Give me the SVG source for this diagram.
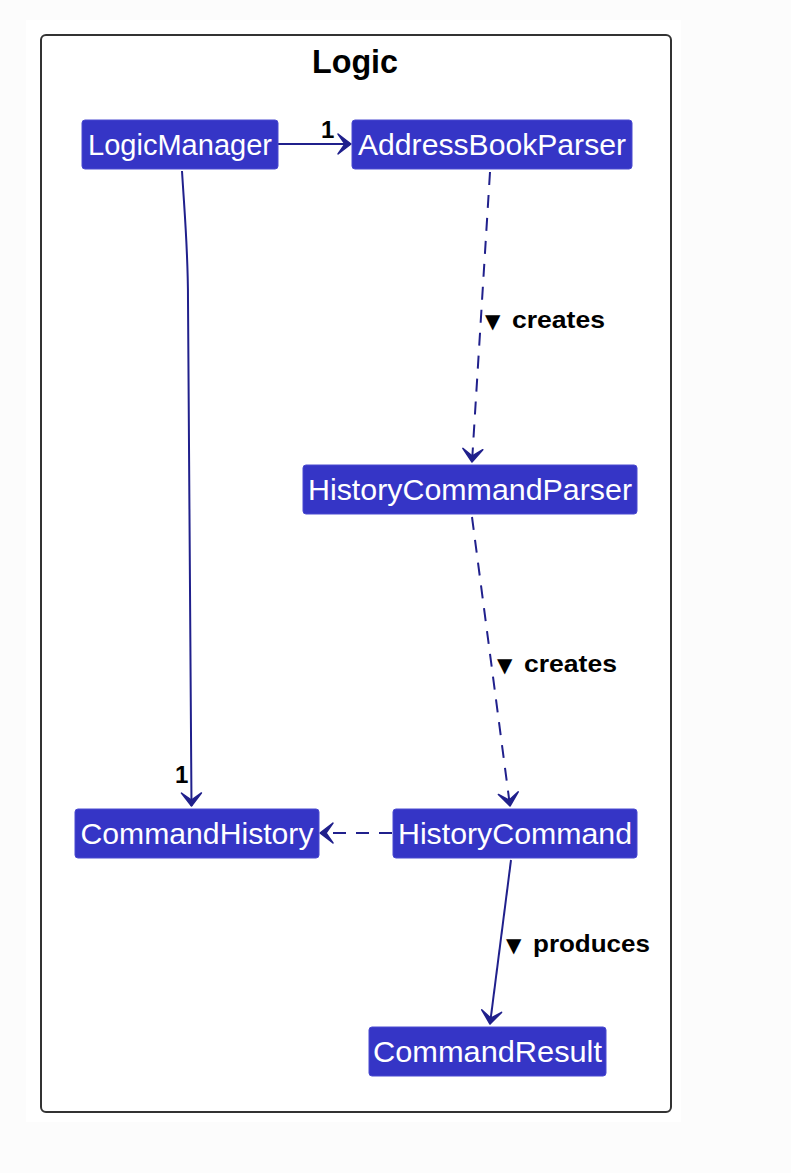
<svg xmlns="http://www.w3.org/2000/svg" width="791" height="1173" viewBox="0 0 791 1173">
<defs>
<style>
.node rect{fill:#3535c6;stroke:#4a4ad0;stroke-width:1}
.node text{fill:#ffffff;font-family:"Liberation Sans",Arial,sans-serif;font-size:29px;text-anchor:middle}
.edge{fill:none;stroke:#20208c;stroke-width:2}
.dash{stroke-dasharray:13 10}
.lbl{fill:#000;font-family:"Liberation Sans",Arial,sans-serif;font-weight:bold;font-size:24px}
.tri{font-family:"DejaVu Sans",sans-serif;font-size:20px}
</style>
<marker id="arr" markerUnits="userSpaceOnUse" markerWidth="34" markerHeight="34" viewBox="-17 -17 34 34" refX="0" refY="0" orient="auto">
<path d="M0,0 L-13,-10 L-6,0 L-13,10 Z" fill="#20208c" stroke="#20208c" stroke-width="1.5" stroke-linejoin="round"/>
</marker>
</defs>
<rect x="0" y="0" width="791" height="1173" fill="#fcfcfc"/>
<rect x="26" y="20" width="655" height="1102" fill="#ffffff"/>
<g id="frame">
<rect x="41" y="35" width="630" height="1077" rx="5" fill="none" stroke="#333333" stroke-width="2"/>
<text x="355" y="73" font-family="Liberation Sans,Arial,sans-serif" font-weight="bold" font-size="33" text-anchor="middle" fill="#000" textLength="86" lengthAdjust="spacingAndGlyphs">Logic</text>
</g>
<g id="connectors">
<path class="edge" d="M278,144 L351,144" marker-end="url(#arr)"/>
<text class="lbl" x="321" y="138">1</text>
<path class="edge" d="M182,171 C185,220 188,250 188,300 L191.5,806" marker-end="url(#arr)"/>
<text class="lbl" x="175" y="783">1</text>
<path class="edge dash" d="M490,172 L472,462" marker-end="url(#arr)"/>
<text class="lbl" x="485" y="328"><tspan class="tri">▼</tspan><tspan x="512" textLength="93" lengthAdjust="spacingAndGlyphs">creates</tspan></text>
<path class="edge dash" d="M472,517 L510,806" marker-end="url(#arr)"/>
<text class="lbl" x="497" y="672"><tspan class="tri">▼</tspan><tspan x="524" textLength="93" lengthAdjust="spacingAndGlyphs">creates</tspan></text>
<path class="edge dash" d="M392,833 L320,833" marker-end="url(#arr)"/>
<path class="edge" d="M511,860 L490,1024" marker-end="url(#arr)"/>
<text class="lbl" x="506" y="952"><tspan class="tri">▼</tspan><tspan x="533" textLength="117" lengthAdjust="spacingAndGlyphs">produces</tspan></text>
</g>
<g id="LogicManager" class="node"><rect x="82" y="120" width="196" height="49" rx="3"/><text x="180" y="155" textLength="184" lengthAdjust="spacingAndGlyphs">LogicManager</text></g>
<g id="AddressBookParser" class="node"><rect x="352" y="120" width="280" height="49" rx="3"/><text x="492" y="155" textLength="268" lengthAdjust="spacingAndGlyphs">AddressBookParser</text></g>
<g id="HistoryCommandParser" class="node"><rect x="303" y="465" width="334" height="49" rx="3"/><text x="470" y="500" textLength="324" lengthAdjust="spacingAndGlyphs">HistoryCommandParser</text></g>
<g id="CommandHistory" class="node"><rect x="75" y="809" width="244" height="49" rx="3"/><text x="197" y="844" textLength="233" lengthAdjust="spacingAndGlyphs">CommandHistory</text></g>
<g id="HistoryCommand" class="node"><rect x="393" y="809" width="244" height="49" rx="3"/><text x="515" y="844" textLength="234" lengthAdjust="spacingAndGlyphs">HistoryCommand</text></g>
<g id="CommandResult" class="node"><rect x="369" y="1027" width="237" height="49" rx="3"/><text x="487.5" y="1062" textLength="229" lengthAdjust="spacingAndGlyphs">CommandResult</text></g>
</svg>
